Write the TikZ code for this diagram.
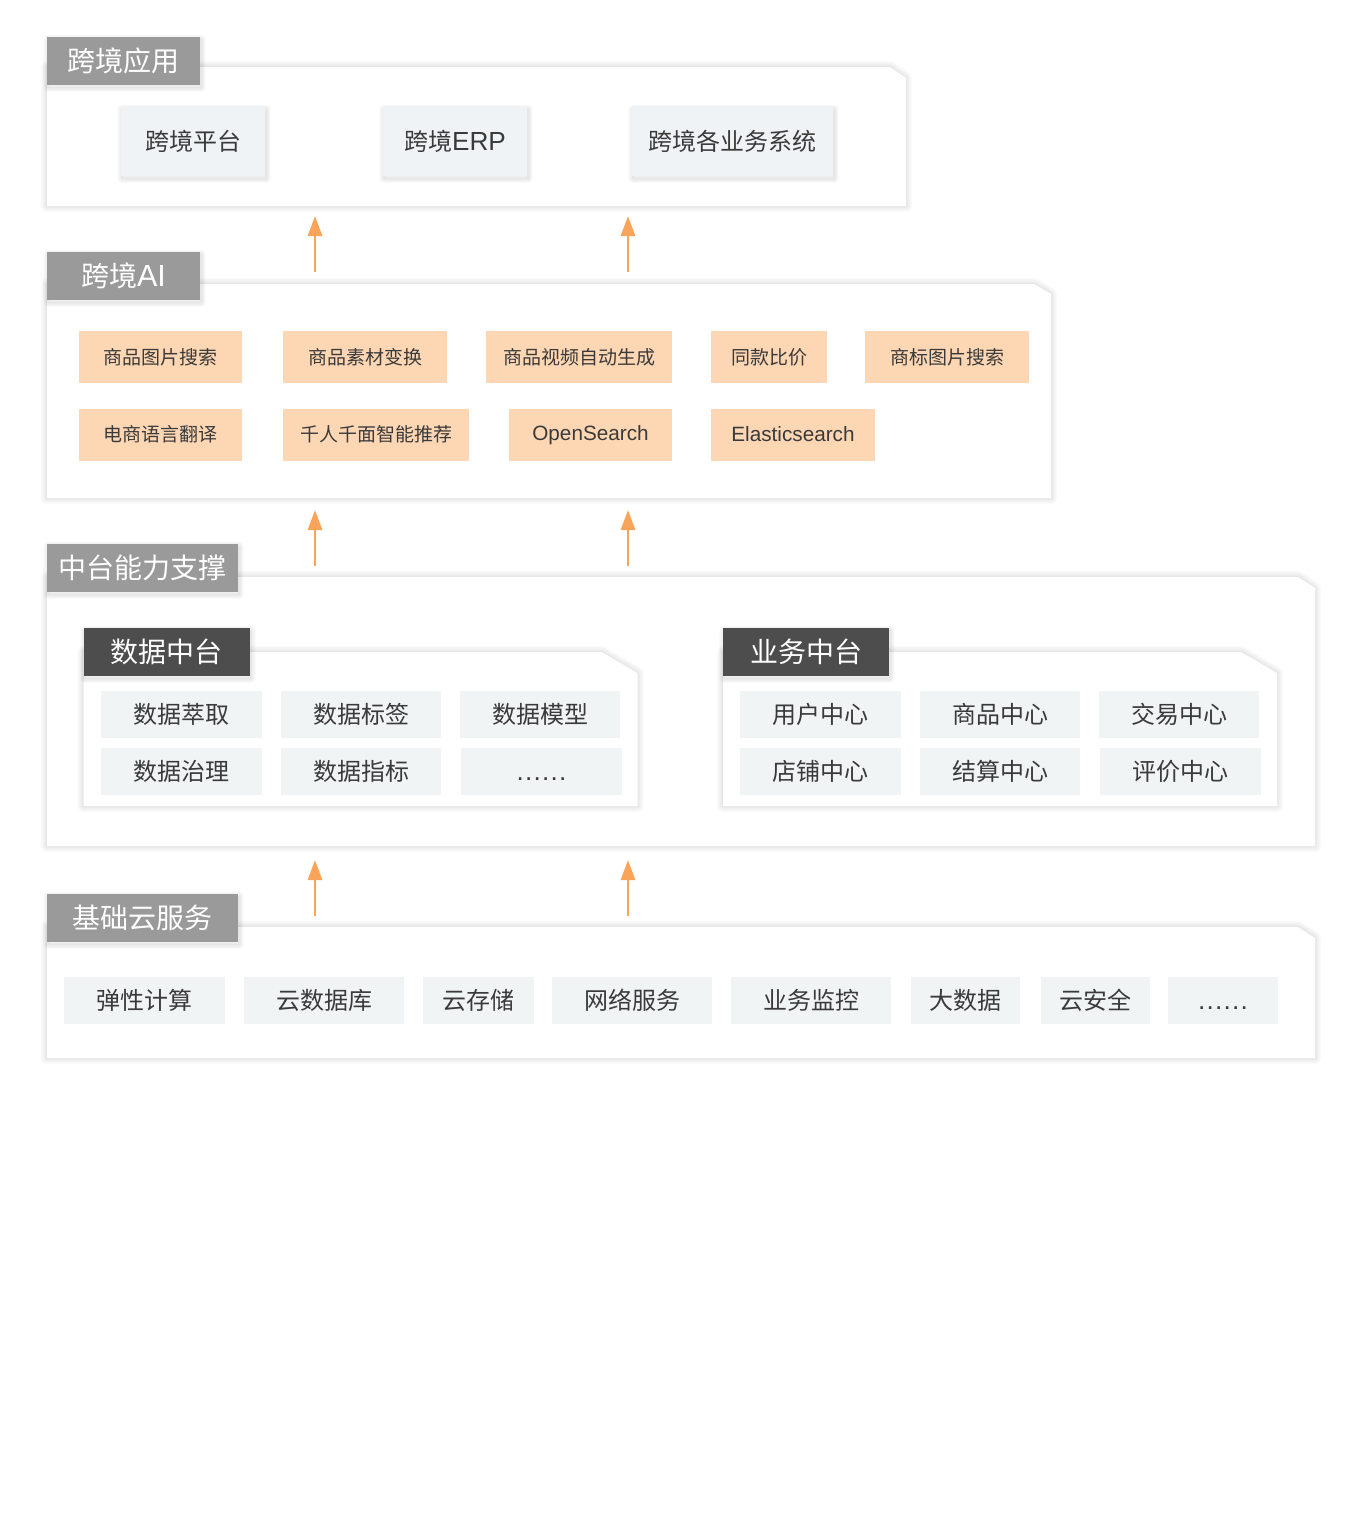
\documentclass[tikz,border=0pt]{standalone}
\usepackage{fontspec}
\setmainfont{Noto Sans CJK SC}
\newfontfamily\lat{Liberation Sans}[Scale=1.09]
\usetikzlibrary{arrows.meta}
\definecolor{tabgray}{HTML}{9A9A9A}
\definecolor{tabdark}{HTML}{4D4D4D}
\definecolor{appfill}{HTML}{F0F3F6}
\definecolor{aifill}{HTML}{FDD6B3}
\definecolor{grayfill}{HTML}{F1F4F5}
\definecolor{txt}{HTML}{3A3A3A}
\definecolor{arrowc}{HTML}{F9A458}
\newcommand{\chpanel}[3]{%
  \fill[white,psh] (#1.south west) -- (#1.north west) -- ([xshift=-#2]#1.north east)
    -- ([yshift=-#3]#1.north east) -- (#1.south east) -- cycle;}
\newcommand{\mydots}{\vphantom{数}{\lat .\kern0.6pt.\kern0.6pt.\kern0.6pt.\kern0.6pt.\kern0.6pt.}}
\begin{document}
\begin{tikzpicture}[x=0.5pt,y=-0.5pt,
  wh/.style 2 args={minimum width=#1*0.5pt,minimum height=#2*0.5pt},
  bx/.style={inner sep=0pt,outer sep=0pt,text=txt,anchor=center},
  sstep/.style={preaction={draw=black,draw opacity=0.011,line width=#1,line join=round}},
  tstep/.style={preaction={draw=black,draw opacity=0.016,line width=#1,line join=round,
      transform canvas={shift={(0.6pt,-1.2pt)}}}},
  psh/.style={sstep=0.8pt,sstep=1.6pt,sstep=2.4pt,sstep=3.2pt,sstep=4pt,sstep=4.8pt,sstep=5.6pt,sstep=6.4pt},
  bsh/.style={tstep=0.8pt,tstep=1.6pt,tstep=2.4pt,tstep=3.2pt,tstep=4pt,tstep=4.8pt},
  tabbox/.style={bx,fill=tabgray,text=white,font=\fontsize{14}{16}\selectfont,bsh},
  darktab/.style={bx,fill=tabdark,text=white,font=\fontsize{14}{16}\selectfont,bsh},
  appbox/.style={bx,fill=appfill,font=\fontsize{12}{14}\selectfont,bsh},
  aibox/.style={bx,fill=aifill,font=\fontsize{9.5}{11}\selectfont},
  gbox/.style={bx,fill=grayfill,font=\fontsize{12}{14}\selectfont},
  panel/.style={bx},
  arr/.style={draw=arrowc,line width=1.4pt,-{Triangle[length=10pt,width=7pt]}}
]
\path[use as bounding box,fill=white] (0,0) rectangle (1361,1521);

% ---------- Layer 1 ----------
\node[panel,wh={859}{139}] (L1) at (476.5,136.5) {};
\chpanel{L1}{8pt}{5.5pt}
\node[tabbox,wh={153}{48}] (T1) at (123.5,61) {跨境应用};
\node[appbox,wh={144}{69}] (A1) at (193,141.5) {跨境平台};
\node[appbox,wh={144}{69}] (A2) at (455,141.5) {跨境{\lat ERP}};
\node[appbox,wh={201}{69}] (A3) at (732.5,141.5) {跨境各业务系统};

% ---------- Layer 2 ----------
\node[panel,wh={1004}{214}] (L2) at (549,391) {};
\chpanel{L2}{8.5pt}{5pt}
\node[tabbox,wh={153}{48}] (T2) at (123.5,276) {跨境{\lat AI}};
\node[aibox,wh={163}{52}] (B1) at (160.5,357) {商品图片搜索};
\node[aibox,wh={164}{52}] (B2) at (365,357) {商品素材变换};
\node[aibox,wh={186}{52}] (B3) at (579,357) {商品视频自动生成};
\node[aibox,wh={116}{52}] (B4) at (769,357) {同款比价};
\node[aibox,wh={164}{52}] (B5) at (947,357) {商标图片搜索};
\node[aibox,wh={163}{52}] (C1) at (160.5,434.5) {电商语言翻译};
\node[aibox,wh={186}{52}] (C2) at (376,434.5) {千人千面智能推荐};
\node[aibox,wh={163}{52}] (C3) at (590.5,434.5) {\vphantom{数}\lat OpenSearch};
\node[aibox,wh={164}{52}] (C4) at (793,434.5) {\vphantom{数}\lat Elasticsearch};

% ---------- Layer 3 ----------
\node[panel,wh={1268}{269}] (L3) at (681,711.5) {};
\chpanel{L3}{8.5pt}{5.5pt}
\node[tabbox,wh={191}{48}] (T3) at (142.5,568) {中台能力支撑};

\node[panel,wh={554}{154}] (DP) at (360.5,729) {};
\chpanel{DP}{18pt}{10.5pt}
\node[darktab,wh={166}{48}] (DT) at (166.5,652) {数据中台};
\node[gbox,wh={161}{47}] (D1) at (181.5,714.5) {数据萃取};
\node[gbox,wh={160}{47}] (D2) at (361,714.5) {数据标签};
\node[gbox,wh={160}{47}] (D3) at (540,714.5) {数据模型};
\node[gbox,wh={161}{47}] (D4) at (181.5,771.5) {数据治理};
\node[gbox,wh={160}{47}] (D5) at (361,771.5) {数据指标};
\node[gbox,wh={161}{47}] (D6) at (541.5,771.5) {\mydots};

\node[panel,wh={554}{154}] (EP) at (1000,729) {};
\chpanel{EP}{18pt}{10.5pt}
\node[darktab,wh={166}{48}] (ET) at (806,652) {业务中台};
\node[gbox,wh={161}{47}] (E1) at (820.5,714.5) {用户中心};
\node[gbox,wh={160}{47}] (E2) at (1000,714.5) {商品中心};
\node[gbox,wh={160}{47}] (E3) at (1179,714.5) {交易中心};
\node[gbox,wh={161}{47}] (E4) at (820.5,771.5) {店铺中心};
\node[gbox,wh={160}{47}] (E5) at (1000,771.5) {结算中心};
\node[gbox,wh={161}{47}] (E6) at (1180.5,771.5) {评价中心};

% ---------- Layer 4 ----------
\node[panel,wh={1268}{131}] (L4) at (681,992.5) {};
\chpanel{L4}{8.5pt}{5.5pt}
\node[tabbox,wh={191}{48}] (T4) at (142.5,918) {基础云服务};
\node[gbox,wh={161}{47}] (F1) at (144.5,1000.5) {弹性计算};
\node[gbox,wh={160}{47}] (F2) at (324,1000.5) {云数据库};
\node[gbox,wh={111}{47}] (F3) at (478,1000.5) {云存储};
\node[gbox,wh={160}{47}] (F4) at (632,1000.5) {网络服务};
\node[gbox,wh={160}{47}] (F5) at (811,1000.5) {业务监控};
\node[gbox,wh={109}{47}] (F6) at (965.5,1000.5) {大数据};
\node[gbox,wh={109}{47}] (F7) at (1095.5,1000.5) {云安全};
\node[gbox,wh={110}{47}] (F8) at (1223,1000.5) {\mydots};

% ---------- Arrows ----------
\coordinate (p1s) at (315,272); \coordinate (p1e) at (315,216);
\coordinate (q1s) at (628,272); \coordinate (q1e) at (628,216);
\coordinate (p2s) at (315,566); \coordinate (p2e) at (315,510);
\coordinate (q2s) at (628,566); \coordinate (q2e) at (628,510);
\coordinate (p3s) at (315,916); \coordinate (p3e) at (315,860);
\coordinate (q3s) at (628,916); \coordinate (q3e) at (628,860);
\draw[arr] (p1s) -- (p1e);
\draw[arr] (q1s) -- (q1e);
\draw[arr] (p2s) -- (p2e);
\draw[arr] (q2s) -- (q2e);
\draw[arr] (p3s) -- (p3e);
\draw[arr] (q3s) -- (q3e);
\end{tikzpicture}
\end{document}
